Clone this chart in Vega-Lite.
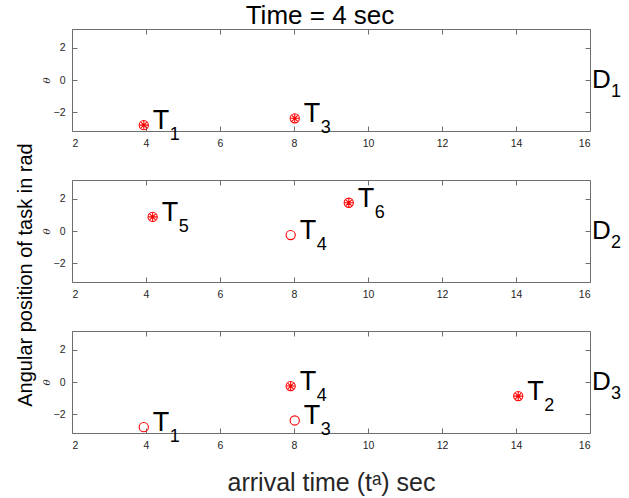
{
  "$schema": "https://vega.github.io/schema/vega-lite/v6.json",
  "background": "white",
  "padding": {"left": 15, "top": 2, "right": 2, "bottom": 2},
  "title": {"text": "Angular position of task in rad", "orient": "left", "anchor": "middle", "fontSize": 20, "fontWeight": "normal", "color": "#000000", "offset": 5, "dx": -26},
  "datasets": {
    "points": [
      {"panel": 1, "t": 3.94, "theta": -2.78, "kind": "active", "task": "1"},
      {"panel": 1, "t": 8.02, "theta": -2.36, "kind": "active", "task": "3"},
      {"panel": 2, "t": 4.18, "theta": 0.87, "kind": "active", "task": "5"},
      {"panel": 2, "t": 7.91, "theta": -0.25, "kind": "open", "task": "4"},
      {"panel": 2, "t": 9.48, "theta": 1.74, "kind": "active", "task": "6"},
      {"panel": 3, "t": 3.94, "theta": -2.78, "kind": "open", "task": "1"},
      {"panel": 3, "t": 8.02, "theta": -2.37, "kind": "open", "task": "3"},
      {"panel": 3, "t": 7.91, "theta": -0.25, "kind": "active", "task": "4"},
      {"panel": 3, "t": 14.06, "theta": -0.87, "kind": "active", "task": "2"}
    ],
    "devices": [
      {"panel": 1, "sub": "1"},
      {"panel": 2, "sub": "2"},
      {"panel": 3, "sub": "3"}
    ]
  },
  "spacing": 30,
  "vconcat": [
    {
      "width": 518, "height": 102,
      "title": {"text": "Time = 4 sec", "fontSize": 26, "fontWeight": "normal", "color": "#000000", "anchor": "middle", "offset": 0, "dx": -11},
      "resolve": {"axis": {"x": "independent", "y": "independent"}},
      "layer": [
        {
          "data": {"name": "points"},
          "transform": [{"filter": "datum.panel == 1"}],
          "mark": {"type": "point", "shape": "circle", "size": 85, "filled": false, "color": "#ff0000", "strokeWidth": 1.1, "opacity": 1},
          "encoding": {
            "x": {"field": "t", "type": "quantitative", "scale": {"domain": [2, 16], "nice": false, "zero": false}, "axis": {"orient": "bottom", "values": [2, 4, 6, 8, 10, 12, 14, 16], "title": null}},
            "y": {"field": "theta", "type": "quantitative", "scale": {"domain": [-3.1416, 3.1416], "nice": false, "zero": false}, "axis": {"orient": "left", "values": [-2, 0, 2], "title": "θ"}}
          }
        },
        {
          "data": {"name": "points"},
          "transform": [{"filter": "datum.panel == 1 && datum.kind == 'active'"}],
          "mark": {"type": "point", "shape": "M-1,0H1M0,-1V1M-0.7,-0.7L0.7,0.7M-0.7,0.7L0.7,-0.7", "size": 72, "filled": false, "color": "#ff0000", "strokeWidth": 1.1, "opacity": 1},
          "encoding": {
            "x": {"field": "t", "type": "quantitative", "scale": {"domain": [2, 16], "nice": false, "zero": false}, "axis": {"orient": "top", "values": [2, 4, 6, 8, 10, 12, 14, 16], "labels": false, "title": null}},
            "y": {"field": "theta", "type": "quantitative", "scale": {"domain": [-3.1416, 3.1416], "nice": false, "zero": false}, "axis": {"orient": "right", "values": [-2, 0, 2], "labels": false, "title": null}}
          }
        },
        {
          "data": {"name": "points"},
          "transform": [{"filter": "datum.panel == 1"}],
          "mark": {"type": "text", "text": "T", "align": "left", "baseline": "middle", "dx": 9, "dy": -4, "fontSize": 27, "color": "#000000"},
          "encoding": {
            "x": {"field": "t", "type": "quantitative", "axis": null},
            "y": {"field": "theta", "type": "quantitative", "axis": null}
          }
        },
        {
          "data": {"name": "points"},
          "transform": [{"filter": "datum.panel == 1"}],
          "mark": {"type": "text", "align": "left", "baseline": "middle", "dx": 26, "dy": 10, "fontSize": 18, "color": "#000000"},
          "encoding": {
            "x": {"field": "t", "type": "quantitative", "axis": null},
            "y": {"field": "theta", "type": "quantitative", "axis": null},
            "text": {"field": "task"}
          }
        },
        {
          "data": {"name": "devices"},
          "transform": [{"filter": "datum.panel == 1"}],
          "mark": {"type": "text", "text": "D", "align": "left", "baseline": "middle", "dx": 2, "dy": 0, "fontSize": 26, "color": "#000000", "clip": false},
          "encoding": {"x": {"datum": 16, "type": "quantitative", "axis": null}, "y": {"datum": 0, "type": "quantitative", "axis": null}}
        },
        {
          "data": {"name": "devices"},
          "transform": [{"filter": "datum.panel == 1"}],
          "mark": {"type": "text", "align": "left", "baseline": "middle", "dx": 21, "dy": 12, "fontSize": 18, "color": "#000000", "clip": false},
          "encoding": {"x": {"datum": 16, "type": "quantitative", "axis": null}, "y": {"datum": 0, "type": "quantitative", "axis": null}, "text": {"field": "sub"}}
        }
      ]
    },
    {
      "width": 518, "height": 102,
      "resolve": {"axis": {"x": "independent", "y": "independent"}},
      "layer": [
        {
          "data": {"name": "points"},
          "transform": [{"filter": "datum.panel == 2"}],
          "mark": {"type": "point", "shape": "circle", "size": 85, "filled": false, "color": "#ff0000", "strokeWidth": 1.1, "opacity": 1},
          "encoding": {
            "x": {"field": "t", "type": "quantitative", "scale": {"domain": [2, 16], "nice": false, "zero": false}, "axis": {"orient": "bottom", "values": [2, 4, 6, 8, 10, 12, 14, 16], "title": null}},
            "y": {"field": "theta", "type": "quantitative", "scale": {"domain": [-3.1416, 3.1416], "nice": false, "zero": false}, "axis": {"orient": "left", "values": [-2, 0, 2], "title": "θ"}}
          }
        },
        {
          "data": {"name": "points"},
          "transform": [{"filter": "datum.panel == 2 && datum.kind == 'active'"}],
          "mark": {"type": "point", "shape": "M-1,0H1M0,-1V1M-0.7,-0.7L0.7,0.7M-0.7,0.7L0.7,-0.7", "size": 72, "filled": false, "color": "#ff0000", "strokeWidth": 1.1, "opacity": 1},
          "encoding": {
            "x": {"field": "t", "type": "quantitative", "scale": {"domain": [2, 16], "nice": false, "zero": false}, "axis": {"orient": "top", "values": [2, 4, 6, 8, 10, 12, 14, 16], "labels": false, "title": null}},
            "y": {"field": "theta", "type": "quantitative", "scale": {"domain": [-3.1416, 3.1416], "nice": false, "zero": false}, "axis": {"orient": "right", "values": [-2, 0, 2], "labels": false, "title": null}}
          }
        },
        {
          "data": {"name": "points"},
          "transform": [{"filter": "datum.panel == 2"}],
          "mark": {"type": "text", "text": "T", "align": "left", "baseline": "middle", "dx": 9, "dy": -4, "fontSize": 27, "color": "#000000"},
          "encoding": {
            "x": {"field": "t", "type": "quantitative", "axis": null},
            "y": {"field": "theta", "type": "quantitative", "axis": null}
          }
        },
        {
          "data": {"name": "points"},
          "transform": [{"filter": "datum.panel == 2"}],
          "mark": {"type": "text", "align": "left", "baseline": "middle", "dx": 26, "dy": 10, "fontSize": 18, "color": "#000000"},
          "encoding": {
            "x": {"field": "t", "type": "quantitative", "axis": null},
            "y": {"field": "theta", "type": "quantitative", "axis": null},
            "text": {"field": "task"}
          }
        },
        {
          "data": {"name": "devices"},
          "transform": [{"filter": "datum.panel == 2"}],
          "mark": {"type": "text", "text": "D", "align": "left", "baseline": "middle", "dx": 2, "dy": 0, "fontSize": 26, "color": "#000000", "clip": false},
          "encoding": {"x": {"datum": 16, "type": "quantitative", "axis": null}, "y": {"datum": 0, "type": "quantitative", "axis": null}}
        },
        {
          "data": {"name": "devices"},
          "transform": [{"filter": "datum.panel == 2"}],
          "mark": {"type": "text", "align": "left", "baseline": "middle", "dx": 21, "dy": 12, "fontSize": 18, "color": "#000000", "clip": false},
          "encoding": {"x": {"datum": 16, "type": "quantitative", "axis": null}, "y": {"datum": 0, "type": "quantitative", "axis": null}, "text": {"field": "sub"}}
        }
      ]
    },
    {
      "width": 518, "height": 102,
      "resolve": {"axis": {"x": "independent", "y": "independent"}},
      "layer": [
        {
          "data": {"name": "points"},
          "transform": [{"filter": "datum.panel == 3"}],
          "mark": {"type": "point", "shape": "circle", "size": 85, "filled": false, "color": "#ff0000", "strokeWidth": 1.1, "opacity": 1},
          "encoding": {
            "x": {"field": "t", "type": "quantitative", "scale": {"domain": [2, 16], "nice": false, "zero": false}, "axis": {"orient": "bottom", "values": [2, 4, 6, 8, 10, 12, 14, 16], "title": "arrival time (tᵃ) sec", "titleFont": "Liberation Sans", "titleFontSize": 25, "titleFontWeight": "normal", "titleFontStyle": "normal", "titleColor": "#262626", "titlePadding": 20}},
            "y": {"field": "theta", "type": "quantitative", "scale": {"domain": [-3.1416, 3.1416], "nice": false, "zero": false}, "axis": {"orient": "left", "values": [-2, 0, 2], "title": "θ"}}
          }
        },
        {
          "data": {"name": "points"},
          "transform": [{"filter": "datum.panel == 3 && datum.kind == 'active'"}],
          "mark": {"type": "point", "shape": "M-1,0H1M0,-1V1M-0.7,-0.7L0.7,0.7M-0.7,0.7L0.7,-0.7", "size": 72, "filled": false, "color": "#ff0000", "strokeWidth": 1.1, "opacity": 1},
          "encoding": {
            "x": {"field": "t", "type": "quantitative", "scale": {"domain": [2, 16], "nice": false, "zero": false}, "axis": {"orient": "top", "values": [2, 4, 6, 8, 10, 12, 14, 16], "labels": false, "title": null}},
            "y": {"field": "theta", "type": "quantitative", "scale": {"domain": [-3.1416, 3.1416], "nice": false, "zero": false}, "axis": {"orient": "right", "values": [-2, 0, 2], "labels": false, "title": null}}
          }
        },
        {
          "data": {"name": "points"},
          "transform": [{"filter": "datum.panel == 3"}],
          "mark": {"type": "text", "text": "T", "align": "left", "baseline": "middle", "dx": 9, "dy": -4, "fontSize": 27, "color": "#000000"},
          "encoding": {
            "x": {"field": "t", "type": "quantitative", "axis": null},
            "y": {"field": "theta", "type": "quantitative", "axis": null}
          }
        },
        {
          "data": {"name": "points"},
          "transform": [{"filter": "datum.panel == 3"}],
          "mark": {"type": "text", "align": "left", "baseline": "middle", "dx": 26, "dy": 10, "fontSize": 18, "color": "#000000"},
          "encoding": {
            "x": {"field": "t", "type": "quantitative", "axis": null},
            "y": {"field": "theta", "type": "quantitative", "axis": null},
            "text": {"field": "task"}
          }
        },
        {
          "data": {"name": "devices"},
          "transform": [{"filter": "datum.panel == 3"}],
          "mark": {"type": "text", "text": "D", "align": "left", "baseline": "middle", "dx": 2, "dy": 0, "fontSize": 26, "color": "#000000", "clip": false},
          "encoding": {"x": {"datum": 16, "type": "quantitative", "axis": null}, "y": {"datum": 0, "type": "quantitative", "axis": null}}
        },
        {
          "data": {"name": "devices"},
          "transform": [{"filter": "datum.panel == 3"}],
          "mark": {"type": "text", "align": "left", "baseline": "middle", "dx": 21, "dy": 12, "fontSize": 18, "color": "#000000", "clip": false},
          "encoding": {"x": {"datum": 16, "type": "quantitative", "axis": null}, "y": {"datum": 0, "type": "quantitative", "axis": null}, "text": {"field": "sub"}}
        }
      ]
    }
  ],
  "config": {
    "font": "Liberation Sans",
    "view": {"stroke": "#6e6e6e", "strokeWidth": 1},
    "axis": {
      "domain": false,
      "grid": false,
      "ticks": true,
      "tickSize": -5,
      "tickColor": "#6e6e6e",
      "tickWidth": 1,
      "labelFontSize": 10.5,
      "labelColor": "#262626",
      "labelPadding": 12,
      "titleFont": "DejaVu Serif",
      "titleFontSize": 10,
      "titleFontStyle": "italic",
      "titleFontWeight": "normal",
      "titleColor": "#262626",
      "titlePadding": 2
    },
    "axisY": {"titleAngle": 270}
  }
}
